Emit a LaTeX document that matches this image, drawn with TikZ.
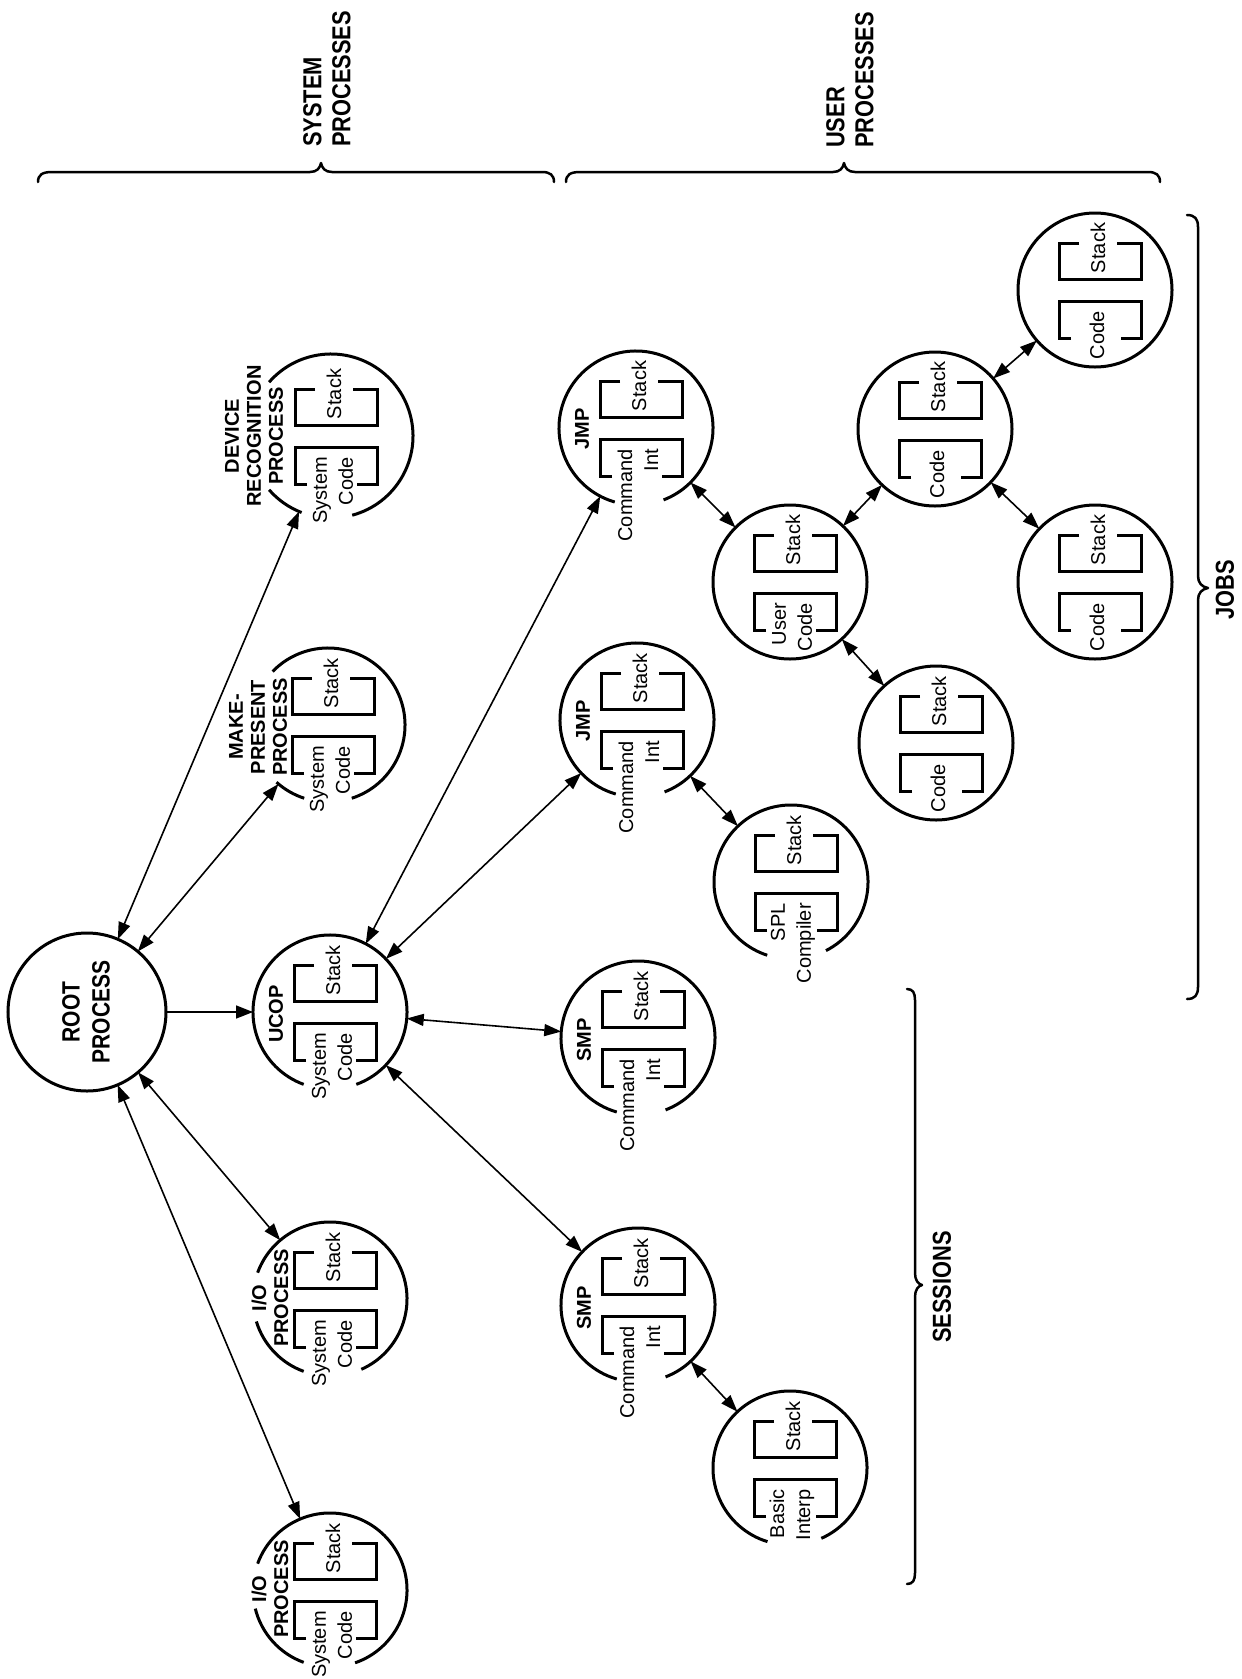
\documentclass[tikz,border=0pt]{standalone}
\usepackage{fontspec}
\setmainfont{Liberation Sans}
\newfontfamily\condfont{Liberation Sans}[FakeStretch=0.84]
\usetikzlibrary{arrows.meta}
\tikzset{
 proc/.style={circle, draw=none, inner sep=0pt, outer sep=0pt, minimum size=154pt},
 ring/.style={line width=3pt},
 brk/.style={line width=3pt},
 conn/.style={line width=1.6pt, {Triangle[length=17pt,width=12pt]}-{Triangle[length=17pt,width=12pt]}},
 oneway/.style={line width=1.6pt, -{Triangle[length=17pt,width=13pt]}},
 txt/.style={rotate=90, inner sep=0pt, font=\fontsize{20}{26}\selectfont},
 lbl/.style={rotate=90, inner sep=0pt, align=center, font=\fontsize{20}{22}\selectfont\bfseries},
 big/.style={rotate=90, inner sep=0pt, font=\condfont\fontsize{26}{29}\selectfont\bfseries},
 bracepath/.style={line width=2.5pt, line cap=round, line join=round},
}
\newcommand{\pbrk}[2]{%
 \begin{scope}[shift={(#1.center)}]
  \draw[brk] (-16,47) -- (-36,47) -- (-36,11) -- (46,11) -- (46,47) -- (22,47);
  \draw[brk] (-24,-48) -- (-36,-48) -- (-36,-11) -- (46,-11) -- (46,-48) -- (26,-48);
  \node[txt] (#1-s) at (3,42) {Stack};
  \node[txt, anchor=east, align=right] (#1-c) at (2,-21) {#2};
 \end{scope}}
\begin{document}
\begin{tikzpicture}[x=1pt,y=1pt]
\useasboundingbox (0,0) rectangle (1242,-1679);

% process nodes
\node[proc, draw, ring, minimum size=158pt] (root) at (87,-1012) {};
\node[proc] (ucop) at (330,-1012) {};
\node[proc, minimum size=164pt] (dev) at (331,-436) {};
\node[proc] (make) at (328,-725) {};
\node[proc] (ioa) at (330,-1299) {};
\node[proc] (iob) at (330,-1590) {};
\node[proc] (jmpa) at (636,-428) {};
\node[proc] (jmpb) at (637,-720) {};
\node[proc] (smpa) at (638,-1038) {};
\node[proc] (smpb) at (638,-1305) {};
\node[proc] (spl) at (791,-882) {};
\node[proc] (bas) at (790,-1468) {};
\node[proc, draw, ring] (user) at (790,-582) {};
\node[proc, draw, ring] (ca) at (935,-429) {};
\node[proc, draw, ring] (cb) at (936,-743) {};
\node[proc, draw, ring] (cc) at (1095,-582) {};
\node[proc, draw, ring] (cd) at (1095,-290) {};

% open rings
\draw[ring] (dev.285) arc[start angle=285, end angle=499, radius=82];
\draw[ring] (dev.221) arc[start angle=221, end angle=249, radius=82];
\draw[ring] (make.288) arc[start angle=288, end angle=496, radius=77];
\draw[ring] (make.228) arc[start angle=228, end angle=252, radius=77];
\draw[ring] (ioa.294) arc[start angle=294, end angle=520, radius=77];
\draw[ring] (ioa.197) arc[start angle=197, end angle=250, radius=77];
\draw[ring] (iob.289) arc[start angle=289, end angle=520, radius=77];
\draw[ring] (iob.194) arc[start angle=194, end angle=250, radius=77];
\draw[ring] (ucop.290) arc[start angle=290, end angle=610, radius=77];
\draw[ring] (smpa.291) arc[start angle=291, end angle=614, radius=77];
\draw[ring] (smpb.291) arc[start angle=291, end angle=614, radius=77];
\draw[ring] (jmpa.291) arc[start angle=291, end angle=614, radius=77];
\draw[ring] (jmpb.291) arc[start angle=291, end angle=614, radius=77];
\draw[ring] (spl.297) arc[start angle=297, end angle=612, radius=77];
\draw[ring] (bas.294) arc[start angle=294, end angle=613, radius=77];

% brackets and texts
\pbrk{dev}{System\\Code}
\pbrk{make}{System\\Code}
\pbrk{ioa}{System\\Code}
\pbrk{iob}{System\\Code}
\pbrk{ucop}{System\\Code}
\pbrk{smpa}{Command\\Int}
\pbrk{smpb}{Command\\Int}
\pbrk{jmpa}{Command\\Int}
\pbrk{jmpb}{Command\\Int}
\pbrk{spl}{SPL\\Compiler}
\pbrk{bas}{Basic\\Interp}
\pbrk{user}{User\\Code}
\pbrk{ca}{Code}
\pbrk{cb}{Code}
\pbrk{cc}{Code}
\pbrk{cd}{Code}

% labels
\node[big, align=center, font=\condfont\fontsize{25}{30}\selectfont\bfseries] (rootl) at (86,-1012) {ROOT\\PROCESS};
\node[lbl] (devl) at (254,-436) {DEVICE\\RECOGNITION\\PROCESS};
\node[lbl] (makel) at (258,-727) {MAKE-\\PRESENT\\PROCESS};
\node[lbl] (ioal) at (270,-1298) {I/O\\PROCESS};
\node[lbl] (iobl) at (270,-1589) {I/O\\PROCESS};
\node[lbl] (ucopl) at (276,-1014) {UCOP};
\node[lbl] (smpal) at (584,-1040) {SMP};
\node[lbl] (smpbl) at (584,-1308) {SMP};
\node[lbl] (jmpal) at (582,-429) {JMP};
\node[lbl] (jmpbl) at (583,-721) {JMP};

% connectors
\draw[conn] (root) -- (dev);
\draw[conn] (root) -- (make);
\draw[oneway] (root) -- (ucop);
\draw[conn] (root) -- (ioa);
\draw[conn] (root) -- (iob);
\draw[conn] (ucop) -- (jmpa);
\draw[conn] (ucop) -- (jmpb);
\draw[conn] (ucop) -- (smpa);
\draw[conn] (ucop) -- (smpb);
\draw[conn] (jmpb) -- (spl);
\draw[conn] (smpb) -- (bas);
\draw[conn] (jmpa) -- (user);
\draw[conn] (user) -- (ca);
\draw[conn] (user) -- (cb);
\draw[conn] (ca) -- (cd);
\draw[conn] (ca) -- (cc);

% braces
\draw[bracepath] (38,-182) .. controls (38,-175) and (42,-172) .. (52,-172) -- (310,-172)
  .. controls (317,-172) and (320,-168) .. (321,-163)
  .. controls (322,-168) and (325,-172) .. (332,-172) -- (542,-172)
  .. controls (550,-172) and (554,-175) .. (554,-182);
\draw[bracepath] (566,-182) .. controls (566,-175) and (570,-172) .. (580,-172) -- (833,-172)
  .. controls (840,-172) and (843,-168) .. (844,-163)
  .. controls (845,-168) and (848,-172) .. (855,-172) -- (1148,-172)
  .. controls (1156,-172) and (1160,-175) .. (1160,-182);
\draw[bracepath] (1187,-215) .. controls (1195,-215) and (1198,-219) .. (1198,-227) -- (1198,-576)
  .. controls (1198,-583) and (1202,-587) .. (1208,-588)
  .. controls (1202,-589) and (1198,-593) .. (1198,-600) -- (1198,-987)
  .. controls (1198,-995) and (1195,-999) .. (1187,-999);
\draw[bracepath] (907,-989) .. controls (913,-989) and (915,-993) .. (915,-1000) -- (915,-1273)
  .. controls (915,-1280) and (918,-1284) .. (922,-1285)
  .. controls (918,-1286) and (915,-1290) .. (915,-1297) -- (915,-1573)
  .. controls (915,-1580) and (913,-1584) .. (907,-1584);

% group titles
\node[big, anchor=west, align=left] (sysl) at (327,-147) {SYSTEM\\PROCESSES};
\node[big, anchor=west, align=left] (usrl) at (850,-148) {USER\\PROCESSES};
\node[big] (sesl) at (942,-1287) {SESSIONS};
\node[big] (jobsl) at (1225,-590) {JOBS};
\end{tikzpicture}
\end{document}
